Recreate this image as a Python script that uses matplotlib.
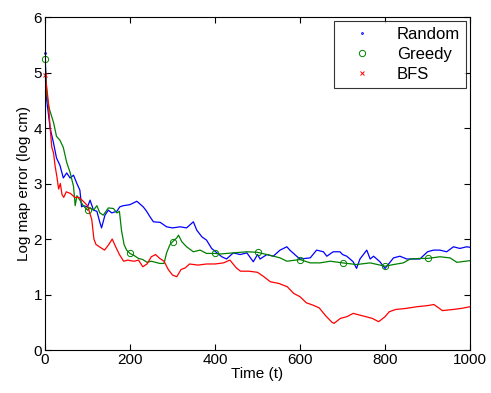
import numpy as np
import matplotlib
matplotlib.use("Agg")
import matplotlib.pyplot as plt

plt.rcParams['font.family'] = ['Liberation Sans', 'DejaVu Sans']

# values (time, log map error)
random_t = [0, 4, 12, 20, 27, 35, 43, 51, 59, 67, 75, 82, 86, 90, 100, 106, 114, 122,
            129, 133, 141, 149, 157, 169, 176, 184, 200, 216, 231, 239, 247, 255, 271,
            286, 300, 318, 333, 349, 357, 369, 380, 392, 400, 416, 427, 443, 459, 475,
            490, 500, 506, 522, 537, 553, 569, 576, 592, 600, 624, 639, 655, 663, 678,
            694, 700, 710, 725, 733, 741, 757, 765, 773, 788, 800, 820, 835, 851, 867,
            882, 900, 914, 929, 945, 961, 976, 992, 1000]
random_err = [5.35, 4.5, 4.0, 3.73, 3.46, 3.33, 3.1, 3.19, 3.1, 3.15, 3.0, 2.88, 2.58, 2.6,
              2.58, 2.7, 2.52, 2.5, 2.3, 2.2, 2.43, 2.52, 2.47, 2.5, 2.58, 2.6, 2.62, 2.68,
              2.58, 2.5, 2.4, 2.31, 2.3, 2.22, 2.2, 2.22, 2.2, 2.31, 2.16, 2.04, 1.98, 1.83,
              1.78, 1.68, 1.64, 1.75, 1.72, 1.75, 1.59, 1.72, 1.64, 1.72, 1.69, 1.8, 1.86,
              1.8, 1.69, 1.64, 1.66, 1.8, 1.77, 1.69, 1.77, 1.77, 1.72, 1.69, 1.59, 1.47,
              1.64, 1.8, 1.64, 1.69, 1.59, 1.47, 1.66, 1.69, 1.64, 1.64, 1.64, 1.77, 1.8,
              1.8, 1.77, 1.86, 1.83, 1.86, 1.85]

greedy_t = [0, 4, 10, 20, 27, 35, 43, 51, 59, 67, 71, 75, 82, 90, 100, 106, 114, 122, 129,
            137, 149, 161, 169, 175, 180, 186, 192, 200, 210, 220, 230, 240, 250, 260, 270,
            280, 286, 294, 300, 310, 314, 322, 333, 349, 365, 380, 400, 412, 443, 475, 500,
            522, 553, 569, 600, 624, 647, 671, 700, 733, 765, 800, 820, 843, 859, 882, 900,
            929, 953, 969, 1000]
greedy_err = [5.25, 4.6, 4.35, 4.1, 3.85, 3.78, 3.65, 3.38, 3.2, 2.95, 2.6, 2.78, 2.7, 2.6,
              2.52, 2.56, 2.52, 2.6, 2.47, 2.43, 2.56, 2.55, 2.47, 2.5, 2.15, 1.9, 1.8, 1.74,
              1.7, 1.65, 1.63, 1.58, 1.6, 1.58, 1.56, 1.56, 1.75, 1.9, 1.95, 2.02, 2.07,
              1.95, 1.86, 1.77, 1.8, 1.74, 1.74, 1.73, 1.75, 1.77, 1.76, 1.72, 1.66, 1.6,
              1.63, 1.57, 1.57, 1.6, 1.57, 1.54, 1.57, 1.51, 1.54, 1.57, 1.64, 1.65, 1.65,
              1.68, 1.66, 1.58, 1.61]

bfs_t = [0, 4, 8, 12, 16, 20, 24, 28, 32, 36, 40, 44, 50, 60, 70, 80, 90, 100, 110, 115,
         120, 130, 140, 150, 158, 165, 175, 185, 195, 200, 210, 220, 230, 240, 250, 260,
         270, 280, 290, 300, 310, 320, 330, 340, 360, 380, 400, 420, 435, 450, 460, 480,
         500, 515, 530, 550, 570, 585, 600, 615, 630, 645, 660, 675, 680, 695, 700, 710,
         725, 740, 755, 770, 785, 800, 810, 825, 850, 875, 900, 915, 935, 960, 980, 1000]
bfs_err = [4.95, 4.74, 4.45, 4.0, 3.65, 3.55, 3.3, 3.12, 2.9, 3.0, 2.8, 2.75, 2.85, 2.82,
           2.75, 2.75, 2.68, 2.6, 2.35, 2.0, 1.9, 1.85, 1.8, 1.9, 2.0, 1.88, 1.72, 1.6,
           1.62, 1.61, 1.6, 1.62, 1.5, 1.55, 1.68, 1.72, 1.65, 1.6, 1.45, 1.35, 1.32, 1.45,
           1.48, 1.55, 1.53, 1.55, 1.55, 1.57, 1.62, 1.48, 1.42, 1.42, 1.4, 1.32, 1.23,
           1.2, 1.14, 1.02, 0.96, 0.85, 0.81, 0.76, 0.62, 0.5, 0.48, 0.57, 0.58, 0.6, 0.66,
           0.63, 0.6, 0.57, 0.51, 0.6, 0.69, 0.73, 0.75, 0.78, 0.8, 0.82, 0.71, 0.73, 0.75,
           0.78]

# (t, err, colour, marker, label, marker size, marker step)
series = [
    (random_t, random_err, (0, 0, 1), '.', 'Random', 2.5, 1000),
    (greedy_t, greedy_err, (0, 0.5, 0), 'o', 'Greedy', 4.5, 100),
    (bfs_t, bfs_err, (1, 0, 0), 'x', 'BFS', 3, 1000),
]

fig = plt.figure(figsize=(4.91, 3.93), dpi=100)
ax = fig.add_axes([0.0917, 0.1094, 0.8656, 0.8473])

for t, err, col, mk, name, ms, step in series:
    ax.plot(t, err, '-', color=col, lw=0.9)
    # markers only every `step` samples, like the original marker overlay
    every = [i for i, v in enumerate(t) if v % step == 0 and v < 1000]
    ax.plot([t[i] for i in every], [err[i] for i in every], ls='none', marker=mk,
            mfc='none', mec=col, color=col, ms=ms, mew=0.7, label=name, clip_on=False)

ax.set_xlim(0, 1000)
ax.set_ylim(0, 6)
ax.set_xticks([0, 200, 400, 600, 800, 1000])
ax.set_yticks([0, 1, 2, 3, 4, 5, 6])
ax.tick_params(direction='in', top=True, right=True, labelsize=11, length=4, pad=2)
ax.set_xlabel('Time (t)', fontsize=11, labelpad=0)
ax.set_ylabel('Log map error (log cm)', fontsize=11, labelpad=2)

leg = ax.legend(loc='upper right', fontsize=12, frameon=True, fancybox=False,
                edgecolor='black', borderaxespad=0.25, handlelength=2.6,
                handletextpad=0.8, labelspacing=0.3, borderpad=0.35)
leg.get_frame().set_linewidth(0.8)

fig.savefig('out.png', dpi=100)
